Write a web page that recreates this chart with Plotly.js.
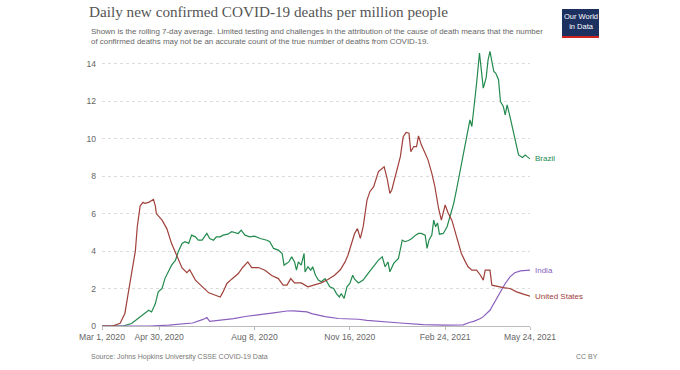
<!DOCTYPE html>
<html>
<head>
<meta charset="utf-8">
<script src="https://cdn.plot.ly/plotly-3.0.1.min.js"></script>
<style>html,body{margin:0;padding:0;background:#fff;}#chart{width:680px;height:370px;}</style>
</head>
<body>
<div id="chart"></div>
<script>
// ---- Data ----
const usDates = ["2020-03-01","2020-03-12","2020-03-20","2020-03-25","2020-03-29","2020-04-01","2020-04-05","2020-04-07","2020-04-10","2020-04-13","2020-04-15","2020-04-19","2020-04-22","2020-04-24","2020-04-26","2020-04-27","2020-05-03","2020-05-08","2020-05-13","2020-05-18","2020-05-24","2020-05-29","2020-06-01","2020-06-07","2020-06-14","2020-06-21","2020-06-28","2020-07-03","2020-07-06","2020-07-10","2020-07-15","2020-07-22","2020-07-27","2020-08-01","2020-08-05","2020-08-12","2020-08-19","2020-08-26","2020-09-02","2020-09-07","2020-09-11","2020-09-15","2020-09-19","2020-09-26","2020-10-03","2020-10-10","2020-10-17","2020-10-24","2020-10-31","2020-11-06","2020-11-11","2020-11-14","2020-11-18","2020-11-21","2020-11-24","2020-11-27","2020-11-30","2020-12-04","2020-12-07","2020-12-11","2020-12-16","2020-12-20","2020-12-22","2020-12-25","2020-12-28","2020-12-30","2021-01-04","2021-01-08","2021-01-11","2021-01-14","2021-01-17","2021-01-19","2021-01-22","2021-01-25","2021-01-27","2021-01-30","2021-02-03","2021-02-06","2021-02-10","2021-02-13","2021-02-17","2021-02-20","2021-02-24","2021-02-27","2021-03-03","2021-03-06","2021-03-10","2021-03-13","2021-03-17","2021-03-20","2021-03-24","2021-03-29","2021-04-02","2021-04-05","2021-04-07","2021-04-12","2021-04-14","2021-04-19","2021-04-26","2021-05-03","2021-05-10","2021-05-17","2021-05-24"];
const usValues = [0,0,0.15,0.67,1.9,2.8,4.0,5.3,6.4,6.6,6.55,6.6,6.7,6.76,6.4,6.0,5.65,5.2,4.4,3.8,3.1,2.85,3.0,2.45,2.1,1.77,1.64,1.55,1.82,2.27,2.5,2.8,3.15,3.42,3.12,3.12,2.98,2.7,2.53,2.18,2.18,2.53,2.3,2.3,2.09,2.18,2.3,2.48,2.71,3.0,3.42,3.78,4.4,4.94,5.2,4.68,5.3,6.72,7.17,7.44,8.24,8.42,8.5,7.9,7.08,7.26,8.33,9.04,10.1,10.33,10.29,9.3,9.58,9.58,10.15,9.67,9.22,8.87,8.15,7.5,6.3,5.65,6.46,6.05,5.65,5.1,4.41,3.87,3.45,3.16,2.98,2.98,2.71,2.45,2.98,2.98,2.18,2.12,2.05,2.0,1.82,1.7,1.59];

const brazilDates = ["2020-03-01","2020-03-23","2020-04-01","2020-04-08","2020-04-15","2020-04-19","2020-04-22","2020-04-26","2020-04-29","2020-05-03","2020-05-06","2020-05-10","2020-05-13","2020-05-17","2020-05-20","2020-05-24","2020-05-27","2020-05-31","2020-06-03","2020-06-07","2020-06-10","2020-06-14","2020-06-19","2020-06-22","2020-06-26","2020-06-29","2020-07-03","2020-07-06","2020-07-11","2020-07-15","2020-07-22","2020-07-25","2020-07-29","2020-08-03","2020-08-08","2020-08-14","2020-08-21","2020-08-24","2020-08-28","2020-09-02","2020-09-06","2020-09-08","2020-09-13","2020-09-16","2020-09-19","2020-09-21","2020-09-23","2020-09-26","2020-09-29","2020-09-30","2020-10-03","2020-10-06","2020-10-08","2020-10-11","2020-10-14","2020-10-17","2020-10-21","2020-10-26","2020-10-30","2020-11-02","2020-11-05","2020-11-07","2020-11-10","2020-11-13","2020-11-16","2020-11-19","2020-11-21","2020-11-25","2020-11-30","2020-12-05","2020-12-11","2020-12-16","2020-12-20","2020-12-23","2020-12-26","2020-12-28","2021-01-01","2021-01-06","2021-01-10","2021-01-13","2021-01-17","2021-01-20","2021-01-24","2021-01-27","2021-01-30","2021-02-03","2021-02-05","2021-02-07","2021-02-10","2021-02-12","2021-02-14","2021-02-16","2021-02-18","2021-02-22","2021-02-26","2021-03-01","2021-03-05","2021-03-08","2021-03-12","2021-03-15","2021-03-19","2021-03-22","2021-03-24","2021-03-27","2021-03-29","2021-04-01","2021-04-03","2021-04-05","2021-04-08","2021-04-10","2021-04-12","2021-04-14","2021-04-16","2021-04-18","2021-04-21","2021-04-23","2021-04-26","2021-04-28","2021-04-30","2021-05-03","2021-05-07","2021-05-10","2021-05-12","2021-05-16","2021-05-19","2021-05-21","2021-05-24"];
const brazilValues = [0,0,0.13,0.4,0.66,0.84,0.75,1.2,1.82,2.0,2.53,2.98,3.25,3.5,3.96,4.41,4.5,4.41,4.85,4.76,4.58,4.58,4.94,4.67,4.58,4.76,4.76,4.85,4.9,5.03,4.94,5.12,4.85,4.76,4.8,4.67,4.58,4.5,4.14,4.05,3.87,3.25,3.42,3.69,3.42,2.98,3.42,3.25,3.87,2.89,3.16,2.98,3.16,2.71,2.45,2.36,2.53,2.09,2.0,1.73,1.55,1.73,1.47,2.09,2.27,2.71,2.5,2.3,2.45,2.8,3.16,3.52,3.69,3.16,3.42,2.89,3.34,3.61,4.58,4.5,4.58,4.67,4.85,4.94,4.94,4.85,4.14,4.58,4.85,5.65,5.3,5.5,4.9,4.94,5.3,5.83,6.55,7.3,8.33,9.0,10.11,11.0,10.65,11.9,12.97,14.57,13.5,12.7,13.24,14.2,14.66,14.2,13.59,13.5,13.15,11.98,11.72,11.27,11.8,11.18,10.29,9.58,9.13,9.0,9.13,9.04,8.92];

const indiaDates = ["2020-03-01","2020-04-20","2020-05-10","2020-06-04","2020-06-15","2020-06-19","2020-06-22","2020-07-03","2020-07-17","2020-07-31","2020-08-14","2020-08-28","2020-09-11","2020-09-18","2020-10-02","2020-10-07","2020-10-21","2020-11-04","2020-11-25","2020-12-04","2021-01-08","2021-02-01","2021-02-24","2021-03-15","2021-03-22","2021-03-26","2021-04-02","2021-04-05","2021-04-12","2021-04-17","2021-04-23","2021-04-28","2021-05-03","2021-05-08","2021-05-14","2021-05-19","2021-05-24"];
const indiaValues = [0,0,0.05,0.16,0.35,0.45,0.25,0.3,0.39,0.52,0.63,0.7,0.8,0.81,0.75,0.66,0.5,0.4,0.36,0.3,0.16,0.07,0.05,0.06,0.2,0.25,0.4,0.5,0.84,1.28,1.82,2.27,2.62,2.84,2.94,2.98,2.98];

const seriesNames = ["Brazil", "India", "United States"];
const seriesColors = ["#238a4e", "#8b5fbf", "#a0403a"];
const tickDates = ["2020-03-01","2020-04-30","2020-08-08","2020-11-16","2021-02-24","2021-05-24"];
const tickLabels = ["Mar 1, 2020","Apr 30, 2020","Aug 8, 2020","Nov 16, 2020","Feb 24, 2021","May 24, 2021"];
const yTicks = [0, 2, 4, 6, 8, 10, 12, 14];

const titleText = "Daily new confirmed COVID-19 deaths per million people";
const subtitleText = "Shown is the rolling 7-day average. Limited testing and challenges in the attribution of the cause of death means that the number<br>of confirmed deaths may not be an accurate count of the true number of deaths from COVID-19.";
const sourceText = "Source: Johns Hopkins University CSSE COVID-19 Data";
const licenseText = "CC BY";

// ---- Chart ----
const xs = [brazilDates, indiaDates, usDates];
const ys = [brazilValues, indiaValues, usValues];

const traces = seriesNames.map((n, i) => ({
  type: "scatter", mode: "lines", name: n,
  x: xs[i], y: ys[i],
  line: {color: seriesColors[i], width: 1.2},
  hoverinfo: "skip"
}));

const W = 680, H = 370;
const L = 102, R = 150, T = 45, B = 44;
const pw = W - L - R, ph = H - T - B;
const px = v => (v - L) / pw;          // pixel x -> paper
const py = v => (H - B - v) / ph;      // pixel y -> paper

const annotations = [];
seriesNames.forEach((n, i) => {
  annotations.push({
    x: xs[i][xs[i].length - 1], y: ys[i][ys[i].length - 1],
    xref: "x", yref: "y", text: n, showarrow: false,
    xanchor: "left", yanchor: "middle", xshift: 3,
    font: {family: "Liberation Sans, Arial, sans-serif", size: 8, color: seriesColors[i]}
  });
});
annotations.push({
  x: px(89), y: py(24.5), xref: "paper", yref: "paper", xanchor: "left", yanchor: "top",
  align: "left", showarrow: false, text: subtitleText,
  font: {family: "Liberation Sans, Arial, sans-serif", size: 7.95, color: "#666"}
});
annotations.push({
  x: px(89), y: py(351), xref: "paper", yref: "paper", xanchor: "left", yanchor: "top",
  showarrow: false, text: sourceText,
  font: {family: "Liberation Sans, Arial, sans-serif", size: 7, color: "#777"}
});
annotations.push({
  x: px(600), y: py(351), xref: "paper", yref: "paper", xanchor: "right", yanchor: "top",
  showarrow: false, text: licenseText,
  font: {family: "Liberation Sans, Arial, sans-serif", size: 7, color: "#777"}
});
annotations.push({
  x: px(580.5), y: py(22), xref: "paper", yref: "paper", xanchor: "center", yanchor: "middle",
  showarrow: false, text: "Our World<br>in Data",
  font: {family: "Liberation Sans, Arial, sans-serif", size: 7.5, color: "#fff"}
});

const layout = {
  width: W, height: H,
  margin: {l: L, r: R, t: T, b: B, pad: 0},
  paper_bgcolor: "#fff", plot_bgcolor: "#fff",
  showlegend: false,
  title: {
    text: titleText, x: 89 / W, xref: "container", xanchor: "left",
    y: 1 - 6 / H, yref: "container", yanchor: "top",
    font: {family: "Liberation Serif, Georgia, serif", size: 15.2, color: "#555"}
  },
  xaxis: {
    type: "date", range: ["2020-03-01", "2021-05-24"],
    tickmode: "array", tickvals: tickDates, ticktext: tickLabels,
    showgrid: false, zeroline: false,
    showline: true, linecolor: "#bbb", linewidth: 1,
    ticks: "outside", ticklen: 3, tickcolor: "#bbb",
    tickfont: {family: "Liberation Sans, Arial, sans-serif", size: 8.6, color: "#666"},
    fixedrange: true
  },
  yaxis: {
    range: [0, 15], tickmode: "array", tickvals: yTicks,
    showgrid: true, gridcolor: "#ddd", griddash: "dot", gridwidth: 1,
    zeroline: false, showline: false, ticks: "",
    ticklabelstandoff: 5,
    tickfont: {family: "Liberation Sans, Arial, sans-serif", size: 8.6, color: "#666"},
    fixedrange: true
  },
  shapes: [
    {type: "rect", xref: "paper", yref: "paper", x0: px(562), x1: px(599), y0: py(36), y1: py(9),
     fillcolor: "#1d3160", line: {width: 0}},
    {type: "rect", xref: "paper", yref: "paper", x0: px(562), x1: px(599), y0: py(38), y1: py(36),
     fillcolor: "#ce261e", line: {width: 0}}
  ],
  annotations: annotations
};

Plotly.newPlot("chart", traces, layout, {displayModeBar: false, staticPlot: true});
</script>
</body>
</html>
